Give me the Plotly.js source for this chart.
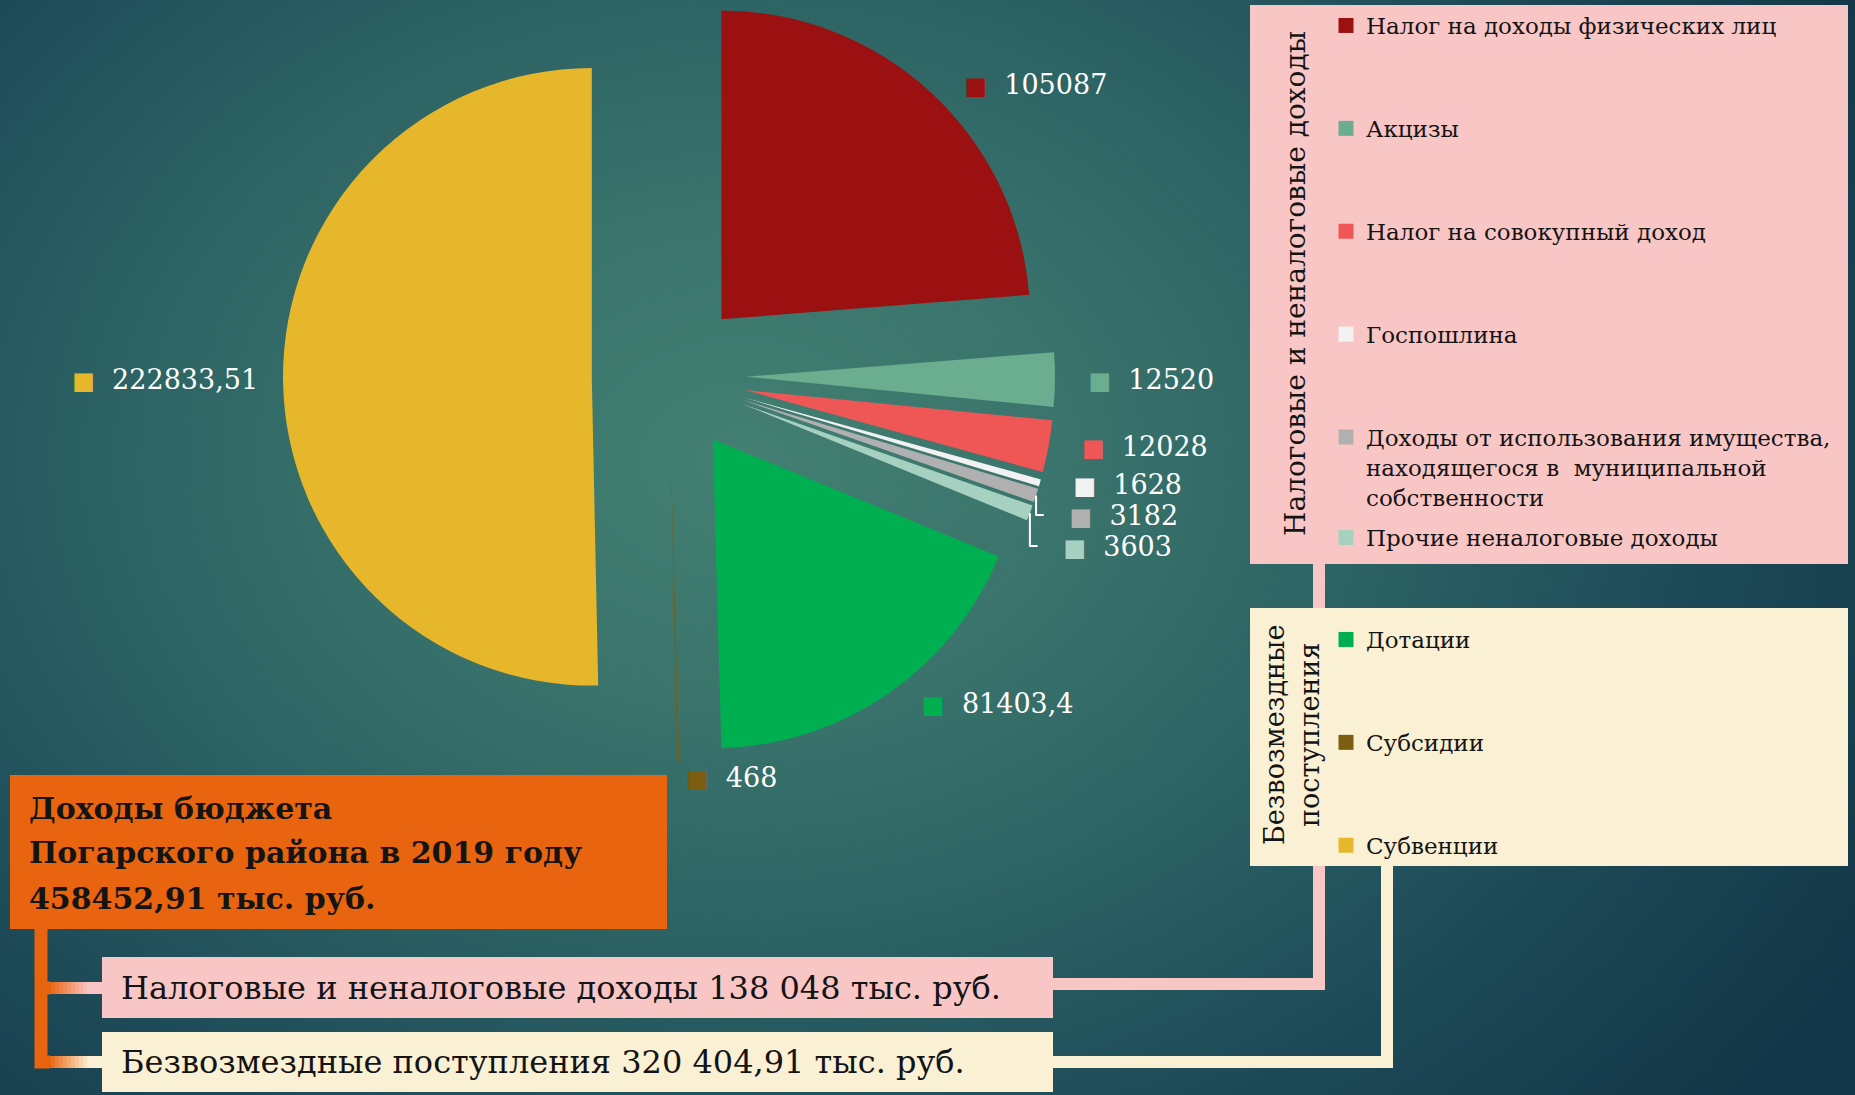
<!DOCTYPE html>
<html><head><meta charset="utf-8">
<script src="https://cdn.plot.ly/plotly-3.0.1.min.js"></script>
<style>
html,body{margin:0;padding:0;width:1855px;height:1095px;overflow:hidden;
background: radial-gradient(ellipse 70% 90% at 40% 42%, #437f72 0%, #3a746c 25%, #2b6163 50%, #1d4957 75%, #133748 100%);}
#chart{position:absolute;left:0;top:-10px;width:1855px;height:1105px;}
</style></head><body><div id="chart"></div>
<script>
// ---- data ----
const categories = ['Налог на доходы физических лиц','Акцизы','Налог на совокупный доход','Госпошлина',
  'Доходы от использования имущества, находящегося в  муниципальной собственности','Прочие неналоговые доходы',
  'Дотации','Субсидии','Субвенции'];
const values = [105087, 12520, 12028, 1628, 3182, 3603, 81403.4, 468, 222833.51];
const colors = ['#9b1111','#6aae8f','#ef5757','#f2f2f2','#b0b0b0','#a6d0c0','#00b050','#7b5e10','#e6b72a'];
const legendLabels = ['Налог на доходы физических лиц','Акцизы','Налог на совокупный доход','Госпошлина',
  'Доходы от использования имущества,<br>находящегося в \u00A0муниципальной<br>собственности','Прочие неналоговые доходы',
  'Дотации','Субсидии','Субвенции'];
const legendOf = ['legend','legend','legend','legend','legend','legend3','legend2','legend2','legend2'];
const labelSide = ['r','r','r','r','r','r','r','c','l'];
const groupTitles = ['Налоговые и неналоговые доходы','Безвозмездные<br>поступления'];
const titleLines = ['Доходы бюджета','Погарского района в 2019 году','458452,91 тыс. руб.'];
const summaryLines = ['Налоговые и неналоговые доходы 138 048 тыс. руб.','Безвозмездные поступления 320 404,91 тыс. руб.'];

// ---- helpers ----
const W = 1855, H = 1105, OFF = 10;
const px = x => x / W;
const py = y => 1 - (y + OFF) / H;
const FONT = '"DejaVu Serif", "Liberation Serif", serif';
const ink = '#141414';
const pink = '#f9c6c6', cream = '#faf0d4', orange = '#e8640f';
const NB = '\u00A0';

const valueLabels = values.map(v => String(v).replace('.', ','));
const sliceText = values.map((v, i) => {
  const core = '<span style="color:' + colors[i] + ';font-size:24px">■</span>' + NB + NB + valueLabels[i];
  if (labelSide[i] === 'r') return NB + NB + NB + core;
  if (labelSide[i] === 'l') return core + NB + NB;
  return core;
});

const traces = [{
  type: 'pie',
  labels: categories,
  values: values,
  sort: false,
  direction: 'clockwise',
  rotation: 0,
  pull: values.map(() => 0.25),
  marker: {colors: colors, line: {width: 0}},
  text: sliceText,
  textinfo: 'text',
  textposition: 'outside',
  outsidetextfont: {family: FONT, size: 27, color: '#ffffff'},
  showlegend: false,
  hoverinfo: 'label+value',
  domain: {x: [px(669 - 386), px(669 + 386)], y: [1 - 772 / H, 1]}
}];

categories.forEach((c, i) => {
  traces.push({
    type: 'scatter', mode: 'markers', x: [null], y: [null],
    name: legendLabels[i], legend: legendOf[i], legendgroup: 'g' + i,
    marker: {symbol: 'square', size: 15, color: colors[i]},
    showlegend: true, hoverinfo: 'skip'
  });
});

const legendBase = {
  bgcolor: 'rgba(0,0,0,0)', borderwidth: 0, xanchor: 'left', yanchor: 'top',
  font: {family: FONT, size: 23, color: ink}, traceorder: 'grouped',
  tracegroupgap: 70, valign: 'top', itemwidth: 30, itemclick: false, itemdoubleclick: false
};

const shapes = [];
function rect(x0, y0, x1, y1, color) {
  shapes.push({type: 'rect', xref: 'paper', yref: 'paper', layer: 'below',
    x0: px(x0), x1: px(x1), y0: py(y1), y1: py(y0), fillcolor: color, line: {width: 0}});
}
function path(pts, color, w) {
  const d = pts.map((p, k) => (k ? 'L' : 'M') + px(p[0]) + ',' + py(p[1])).join(' ');
  shapes.push({type: 'path', xref: 'paper', yref: 'paper', layer: 'below', path: d,
    line: {color: color, width: w}});
}
function mix(a, b, t) {
  const pa = [1,3,5].map(k => parseInt(a.substr(k, 2), 16));
  const pb = [1,3,5].map(k => parseInt(b.substr(k, 2), 16));
  return 'rgb(' + pa.map((v, k) => Math.round(v + (pb[k] - v) * t)).join(',') + ')';
}

// connectors (drawn first, boxes cover them)
path([[1319, 560], [1319, 984], [1050, 984]], pink, 12);
path([[1387, 860], [1387, 1062], [1050, 1062]], cream, 12);
path([[41, 925], [41, 1062], [50, 1062]], orange, 13);
path([[41, 988], [50, 988]], orange, 13);
const segN = 14;
for (let k = 0; k < segN; k++) {
  const x0 = 47 + k * (56 / segN), x1 = x0 + 56 / segN + 0.6;
  const t = Math.min(1, k / (segN - 4));
  rect(x0, 982, x1, 994, mix(orange, pink, t));
  rect(x0, 1056, x1, 1068, mix(orange, cream, t));
}

// boxes
rect(1250, 5, 1848, 564, pink);
rect(1250, 608, 1848, 866, cream);
rect(10, 775, 667, 929, orange);
rect(102, 957, 1053, 1018, pink);
rect(102, 1032, 1053, 1092, cream);

const annotations = [];
[808, 852, 898].forEach((y, i) => annotations.push({
  xref: 'paper', yref: 'paper', x: px(27), y: py(y), xanchor: 'left', yanchor: 'middle',
  text: '<b>' + titleLines[i] + '</b>', showarrow: false,
  font: {family: FONT, size: 30, color: ink}
}));
[988, 1062].forEach((y, i) => annotations.push({
  xref: 'paper', yref: 'paper', x: px(119), y: py(y), xanchor: 'left', yanchor: 'middle',
  text: summaryLines[i], showarrow: false,
  font: {family: FONT, size: 32, color: ink}
}));
annotations.push({
  xref: 'paper', yref: 'paper', x: px(1296), y: py(284), xanchor: 'center', yanchor: 'middle',
  text: groupTitles[0], textangle: -90, showarrow: false,
  font: {family: FONT, size: 28, color: ink}
});
annotations.push({
  xref: 'paper', yref: 'paper', x: px(1292), y: py(735), xanchor: 'center', yanchor: 'middle',
  text: groupTitles[1], textangle: -90, showarrow: false,
  font: {family: FONT, size: 27, color: ink}
});

const layout = {
  width: W, height: H, autosize: false,
  margin: {l: 0, r: 0, t: 0, b: 0, pad: 0},
  paper_bgcolor: 'rgba(0,0,0,0)', plot_bgcolor: 'rgba(0,0,0,0)',
  xaxis: {visible: false, fixedrange: true}, yaxis: {visible: false, fixedrange: true},
  showlegend: true,
  legend: Object.assign({}, legendBase, {x: px(1326), y: py(4)}),
  legend3: Object.assign({}, legendBase, {x: px(1326), y: py(516)}),
  legend2: Object.assign({}, legendBase, {x: px(1326), y: py(618)}),
  shapes: shapes, annotations: annotations,
  font: {family: FONT}
};

Plotly.newPlot('chart', traces, layout, {displayModeBar: false, staticPlot: true});
</script></body></html>
